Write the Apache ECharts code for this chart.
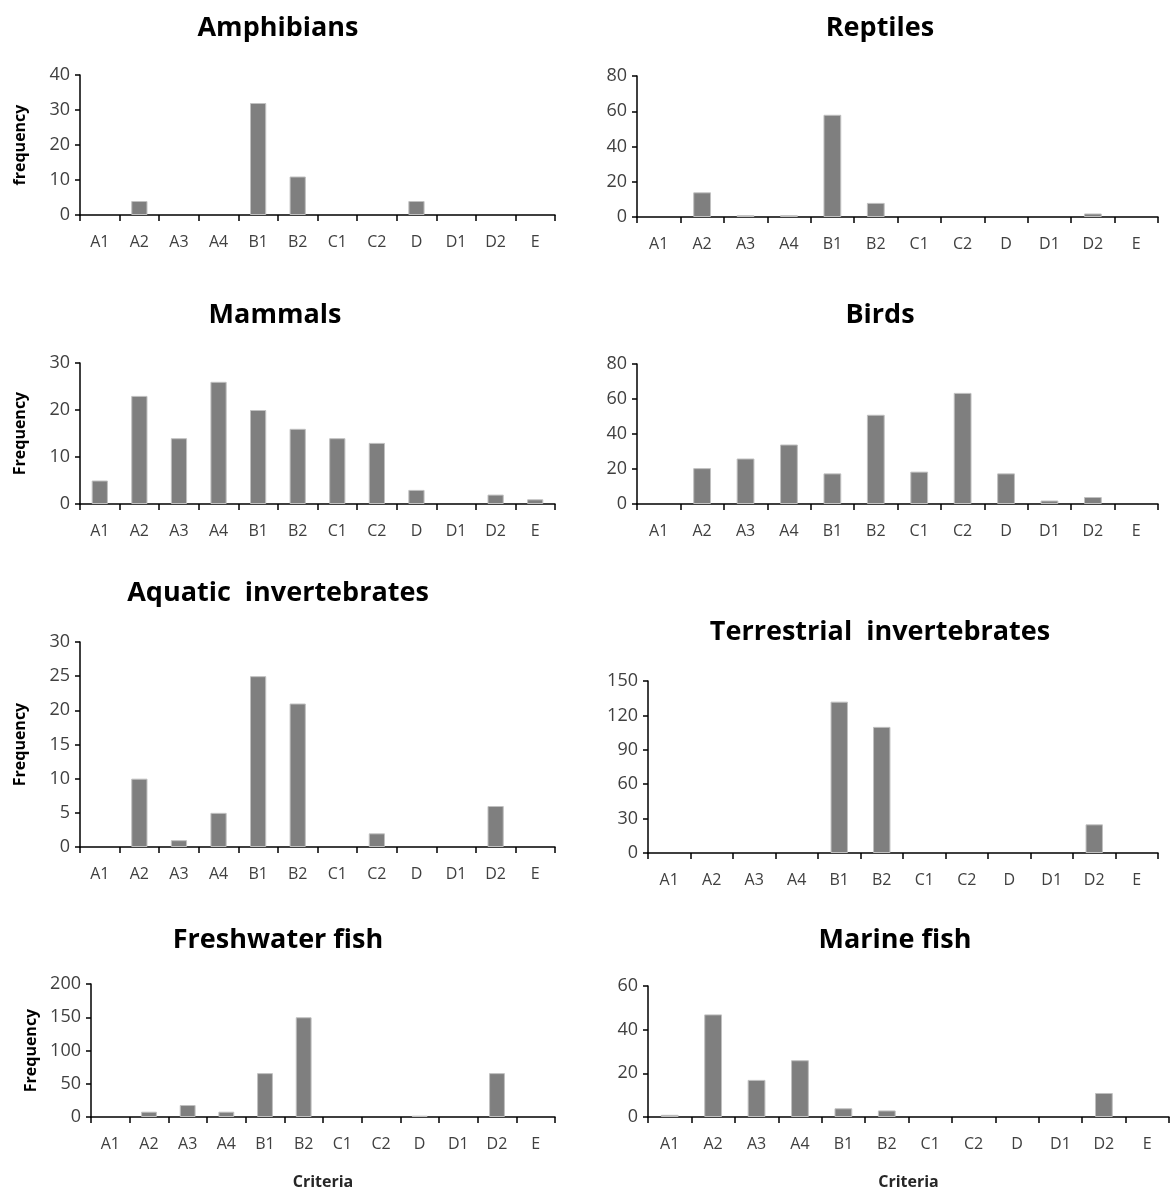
<!DOCTYPE html>
<html>
<head>
<meta charset="utf-8">
<script src="https://cdn.jsdelivr.net/npm/echarts@6/dist/echarts.min.js"></script>
<style>
html,body{margin:0;padding:0;background:#fff;}
#main{width:1172px;height:1191px;}
</style>
</head>
<body>
<div id="main"></div>
<script>
// Categories (criteria)
var criteria = ['A1','A2','A3','A4','B1','B2','C1','C2','D','D1','D2','E'];

// Panel titles
var titles = ['Amphibians','Reptiles','Mammals','Birds','Aquatic  invertebrates','Terrestrial  invertebrates','Freshwater fish','Marine fish'];

// Series values (frequency per criterion)
var amphibians     = [0, 4, 0, 0, 32, 11, 0, 0, 4, 0, 0, 0];
var reptiles       = [0, 14, 1, 1, 58, 8, 0, 0, 0, 0, 2, 0];
var mammals        = [5, 23, 14, 26, 20, 16, 14, 13, 3, 0, 2, 1];
var birds          = [0, 20.5, 26, 34, 17.5, 51, 18.5, 63.5, 17.5, 2, 4, 0];
var aquaticInv     = [0, 10, 1, 5, 25, 21, 0, 2, 0, 0, 6, 0];
var terrestrialInv = [0, 0, 0, 0, 132, 110, 0, 0, 0, 0, 25, 0];
var freshwaterFish = [0, 8, 18, 8, 66, 150, 0, 0, 2, 0, 66, 0];
var marineFish     = [1, 47, 17, 26, 4, 3, 0, 0, 0, 0, 11, 0];

// Y axis tick settings
var yMax      = [40, 80, 30, 80, 30, 150, 200, 60];
var yInterval = [10, 20, 10, 20, 5, 30, 50, 20];
var yNames    = ['frequency', '', 'Frequency', '', 'Frequency', '', 'Frequency', ''];
var xNames    = ['', '', '', '', '', '', 'Criteria', 'Criteria'];

var seriesData = [amphibians, reptiles, mammals, birds, aquaticInv, terrestrialInv, freshwaterFish, marineFish];

// Layout (pixels)
var grids = [
  {left: 80,  top: 75,  width: 475, height: 140},
  {left: 637, top: 76,  width: 521, height: 141},
  {left: 80,  top: 363, width: 475, height: 141},
  {left: 637, top: 364, width: 521, height: 140},
  {left: 80,  top: 642, width: 475, height: 205},
  {left: 648, top: 681, width: 510, height: 172},
  {left: 91,  top: 984, width: 464, height: 133},
  {left: 648, top: 986, width: 521, height: 133}
];
var titlePos = [[278,28],[880,28],[275,315],[880,315],[278,593],[880,632],[278,940],[895,940]];

var fontFam = '"Open Sans", "DejaVu Sans", sans-serif';
var option = {
  animation: false,
  backgroundColor: '#ffffff',
  grid: [], xAxis: [], yAxis: [], series: [], graphic: []
};

for (var i = 0; i < 8; i++) {
  option.grid.push(grids[i]);
  option.xAxis.push({
    type: 'category', gridIndex: i, data: criteria,
    boundaryGap: true,
    name: xNames[i], nameLocation: 'middle', nameGap: 57,
    nameTextStyle: {fontFamily: fontFam, fontSize: 16, color: '#262626', fontWeight: 'bold'},
    axisLine: {lineStyle: {color: '#000', width: 1.5}},
    axisTick: {show: true, inside: false, length: 6, alignWithLabel: false, lineStyle: {color: '#000', width: 1.5}},
    axisLabel: {fontFamily: fontFam, fontSize: 16, color: '#404040', margin: 19, interval: 0},
    splitLine: {show: false}
  });
  option.yAxis.push({
    type: 'value', gridIndex: i, min: 0, max: yMax[i], interval: yInterval[i],
    name: yNames[i], nameLocation: 'middle', nameRotate: 90, nameGap: 52,
    nameTextStyle: {fontFamily: fontFam, fontSize: 16, color: '#000', fontWeight: 'bold'},
    axisLine: {show: true, lineStyle: {color: '#000', width: 1.5}},
    axisTick: {show: true, inside: false, length: 5, lineStyle: {color: '#000', width: 1.5}},
    axisLabel: {fontFamily: fontFam, fontSize: 18, color: '#404040', margin: 10},
    splitLine: {show: false}
  });
  option.series.push({
    type: 'bar', xAxisIndex: i, yAxisIndex: i,
    data: seriesData[i].map(function (v) {
      return v === 0 ? {value: v, itemStyle: {borderWidth: 0}} : v;
    }),
    barWidth: '41%',
    itemStyle: {color: '#7f7f7f', borderColor: '#c0c0c0', borderWidth: 1}
  });
  option.graphic.push({
    type: 'text', x: titlePos[i][0], y: titlePos[i][1],
    style: {text: titles[i], fill: '#000', font: 'bold 27px ' + fontFam,
            textAlign: 'center', textVerticalAlign: 'middle'}
  });
}

var chart = echarts.init(document.getElementById('main'), null, {renderer: 'canvas'});
chart.setOption(option);
</script>
</body>
</html>
